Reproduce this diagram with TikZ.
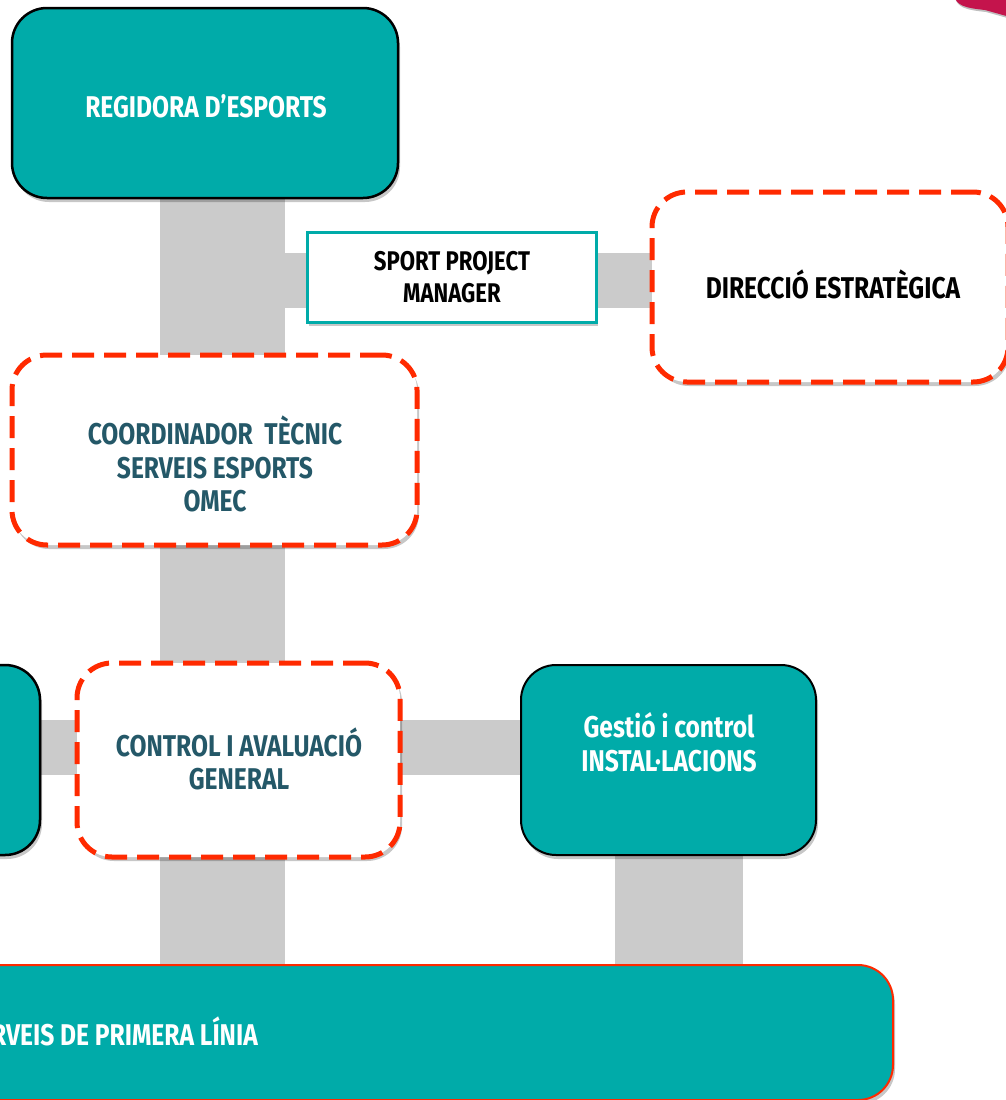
\documentclass[tikz,border=0pt]{standalone}
\usepackage{fontspec}
\newfontfamily\cf{Fira Sans}[FakeStretch=0.82]
\usetikzlibrary{shadows}
\definecolor{teal1}{RGB}{0,171,169}
\definecolor{redd}{RGB}{255,42,0}
\definecolor{darktxt}{RGB}{36,88,104}
\definecolor{barg}{RGB}{203,203,203}
\definecolor{magen}{RGB}{196,20,76}
\begin{document}
\begin{tikzpicture}[x=1pt,y=-1pt,
  box/.style={rectangle, rounded corners=35pt, inner sep=0pt},
  shad/.style={drop shadow={shadow xshift=2pt, shadow yshift=-4pt, opacity=0.22, fill=black}},
  tealbox/.style={box, shad, fill=teal1, draw=black, line width=2.5pt},
  dashbox/.style={box, shad, fill=white, draw=redd, line width=5pt, dash pattern=on 22pt off 10pt},
  bar/.style={draw=barg},
  lbl/.style={font=\cf\bfseries\fontsize{30}{33.5}\selectfont, align=center, inner sep=0pt},
]
\useasboundingbox (0,0) rectangle (1005,1100);
% magenta shape at top right
\fill[magen, drop shadow={shadow xshift=1pt, shadow yshift=-2pt, opacity=0.25, fill=black}]
  (954,-5) .. controls (956,6) and (966,8) .. (985,10) -- (1010,17) -- (1010,-5) -- cycle;

% box outlines (positions), drawn after the bars
\node[box, minimum width=386pt, minimum height=190pt] (reg) at (205,103) {};
\node[rectangle, minimum width=289pt, minimum height=90pt, inner sep=0pt] (spm) at (451.5,277) {};
\node[box, minimum width=356pt, minimum height=190pt] (dir) at (830,287) {};
\node[box, minimum width=405pt, minimum height=190pt] (coord) at (214.5,450) {};
\node[box, minimum width=323pt, minimum height=194pt] (ctrl) at (238.5,760) {};
\node[box, minimum width=340pt, minimum height=190pt] (left) at (-130,760) {};
\node[box, minimum width=295pt, minimum height=190pt] (gest) at (668.5,760) {};
\node[box, minimum width=1293pt, minimum height=135pt] (bot) at (246.5,1032.5) {};

% connector bars
\coordinate (v1) at (222.5,196);
\coordinate (hy) at (0,280.5);
\coordinate (hy2) at (0,747.5);
\draw[bar, line width=125pt] (v1) -- (v1 |- bot.north);
\draw[bar, line width=55pt] (v1 |- hy) -- (spm.west |- hy);
\draw[bar, line width=55pt] (spm.east |- hy) -- (dir.west |- hy);
\draw[bar, line width=55pt] (left.east |- hy2) -- (ctrl.west |- hy2);
\draw[bar, line width=55pt] (ctrl.east |- hy2) -- (gest.west |- hy2);
\draw[bar, line width=128pt] ([xshift=10.5pt]gest.south) -- ([xshift=10.5pt]gest.south |- bot.north);

% visible boxes
\node[tealbox, minimum width=386pt, minimum height=190pt] at (reg) {};
\node[rectangle, shad, fill=white, draw=teal1, line width=3pt, minimum width=289pt, minimum height=90pt, inner sep=0pt] at (spm) {};
\node[dashbox, minimum width=356pt, minimum height=190pt] at (dir) {};
\node[dashbox, minimum width=405pt, minimum height=190pt] at (coord) {};
\node[dashbox, minimum width=323pt, minimum height=194pt] at (ctrl) {};
\node[tealbox, minimum width=340pt, minimum height=190pt] at (left) {};
\node[tealbox, line width=2pt, minimum width=295pt, minimum height=190pt] at (gest) {};
\node[box, shad, fill=teal1, draw=redd, line width=2pt, minimum width=1293pt, minimum height=135pt] at (bot) {};

% labels
\node[lbl, white, anchor=base] (reglbl) at (206,117) {REGIDORA D’ESPORTS};
\node[lbl, black, font=\cf\bfseries\fontsize{27}{32}\selectfont] (spmlbl) at (452,277) {SPORT PROJECT\\MANAGER};
\node[lbl, black, anchor=base] (dirlbl) at (833,298) {DIRECCIÓ ESTRATÈGICA};
\node[lbl, darktxt] (coordlbl) at (215,464) {COORDINADOR\ \ TÈCNIC\\SERVEIS ESPORTS\\OMEC};
\node[lbl, darktxt] (ctrllbl) at (239,759) {CONTROL I AVALUACIÓ\\GENERAL};
\node[lbl, white] (gestlbl) at (669,742) {Gestió i control\\INSTAL·LACIONS};
\node[lbl, white, anchor=base east] (botlbl) at (258,1045) {SERVEIS DE PRIMERA LÍNIA};
\end{tikzpicture}
\end{document}
